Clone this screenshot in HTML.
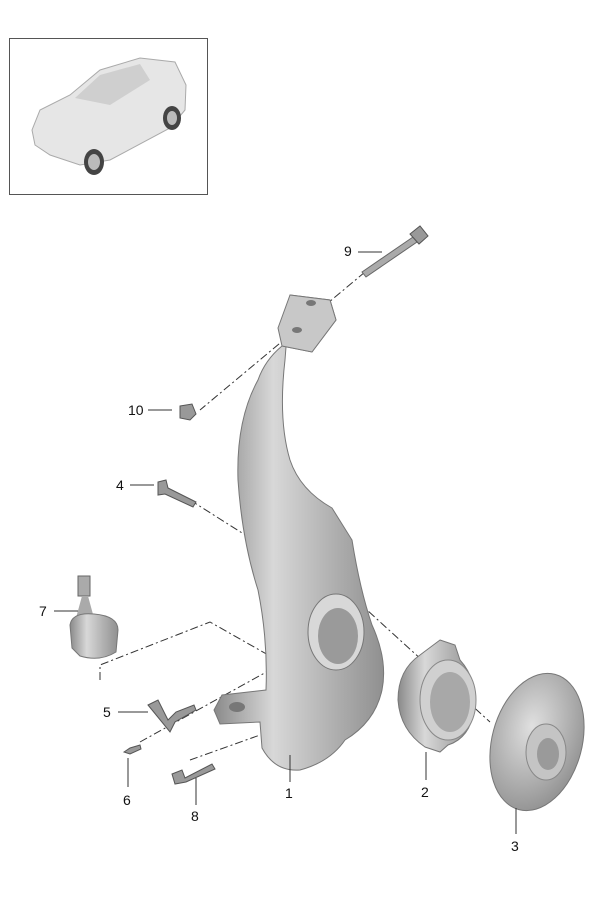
<!DOCTYPE html>
<html><head><meta charset="utf-8"><style>
html,body{margin:0;padding:0;background:#fff}
svg{display:block}
text{font-family:"Liberation Sans",sans-serif;font-size:14px;fill:#111}
</style></head><body>
<svg width="600" height="900" viewBox="0 0 600 900" xmlns="http://www.w3.org/2000/svg">
<defs>
<linearGradient id="g1" x1="0" y1="0" x2="1" y2="0">
<stop offset="0" stop-color="#8a8a8a"/><stop offset="0.35" stop-color="#d8d8d8"/><stop offset="0.7" stop-color="#b0b0b0"/><stop offset="1" stop-color="#909090"/></linearGradient>
<radialGradient id="g2" cx="0.4" cy="0.4" r="0.7"><stop offset="0" stop-color="#e0e0e0"/><stop offset="1" stop-color="#8c8c8c"/></radialGradient>
</defs>
<rect x="9.5" y="38.5" width="198" height="156" fill="#fff" stroke="#555" stroke-width="1"/>
<path d="M32 130 L40 110 L70 95 L100 70 L140 58 L175 62 L186 85 L185 110 L170 128 L110 160 L80 165 L50 155 L35 145 Z" fill="#e6e6e6" stroke="#aaa"/>
<path d="M75 98 L100 75 L140 64 L150 80 L110 105 Z" fill="#cfcfcf"/>
<ellipse cx="94" cy="162" rx="10" ry="13" fill="#444"/><ellipse cx="94" cy="162" rx="6" ry="8" fill="#bbb"/>
<ellipse cx="172" cy="118" rx="9" ry="12" fill="#444"/><ellipse cx="172" cy="118" rx="5" ry="7" fill="#bbb"/>
<g stroke="#333" stroke-width="1" fill="none" stroke-dasharray="8,3,2,3">
<line x1="365" y1="272" x2="200" y2="410"/>
<line x1="190" y1="500" x2="250" y2="538"/>
<line x1="345" y1="590" x2="490" y2="722"/>
<polyline points="100,680 100,665 210,622 270,656"/>
<line x1="140" y1="742" x2="270" y2="670"/>
<line x1="190" y1="760" x2="260" y2="735"/>
</g>
<path d="M290 295 L330 300 L336 320 L312 352 L282 346 Q265 360 258 380 Q236 420 238 480 Q242 540 258 590 Q268 640 266 690 L222 695 L214 710 L220 724 L260 722 L262 748 Q275 772 300 770 Q330 762 345 740 Q375 722 382 690 Q388 660 372 625 Q360 590 352 540 L332 508 Q300 490 290 460 Q278 420 285 360 Z" fill="url(#g1)" stroke="#777" stroke-width="1"/>
<path d="M290 295 L330 300 L336 320 L312 352 L282 346 L278 328 Z" fill="#c8c8c8" stroke="#777"/>
<ellipse cx="311" cy="303" rx="5" ry="3" fill="#777"/><ellipse cx="297" cy="330" rx="5" ry="3" fill="#777"/>
<ellipse cx="336" cy="632" rx="28" ry="38" fill="#d8d8d8" stroke="#777"/>
<ellipse cx="338" cy="636" rx="20" ry="28" fill="#9a9a9a"/>
<ellipse cx="237" cy="707" rx="8" ry="5" fill="#777"/>
<path d="M440 640 L455 645 L460 660 Q478 680 474 710 Q470 738 448 745 L440 752 L425 747 Q400 730 398 700 Q398 670 420 655 Z" fill="url(#g1)" stroke="#777"/>
<ellipse cx="448" cy="700" rx="28" ry="40" fill="#d0d0d0" stroke="#888"/>
<ellipse cx="450" cy="702" rx="20" ry="30" fill="#a8a8a8"/>
<path d="M500 715 L520 712 L520 780 L500 775 Q493 745 500 715Z" fill="#9a9a9a" stroke="#777"/>
<ellipse cx="537" cy="742" rx="45" ry="70" transform="rotate(15 537 742)" fill="url(#g2)" stroke="#777"/>
<ellipse cx="546" cy="752" rx="20" ry="28" fill="#c4c4c4" stroke="#888"/>
<ellipse cx="548" cy="754" rx="11" ry="16" fill="#9a9a9a"/>
<!-- bolt 9 -->
<path d="M362 272 L413 237 L417 242 L366 277 Z" fill="#aaa" stroke="#666"/>
<path d="M410 234 L420 226 L428 236 L419 244 Z" fill="#999" stroke="#555"/>
<path d="M180 406 L192 404 L196 414 L190 420 L180 418 Z" fill="#999" stroke="#555"/>
<path d="M158 482 L166 480 L168 488 L196 502 L193 507 L165 494 L158 495 Z" fill="#999" stroke="#555"/>
<rect x="78" y="576" width="12" height="20" fill="#aaa" stroke="#666"/>
<path d="M82 596 L88 596 L94 618 L76 618 Z" fill="#aaa"/>
<path d="M70 625 Q72 612 94 614 Q118 616 118 630 L116 652 Q100 662 80 656 L72 648 Z" fill="url(#g1)" stroke="#777"/>
<path d="M148 705 L158 700 L168 720 L176 712 L194 705 L196 710 L175 722 L170 732 Z" fill="#999" stroke="#555"/>
<path d="M124 752 L130 748 L140 745 L141 749 L130 754 Z" fill="#999" stroke="#555"/>
<path d="M172 774 L182 770 L185 778 L212 764 L215 769 L186 782 L175 784 Z" fill="#999" stroke="#555"/>
<g stroke="#333" stroke-width="1">
<line x1="358" y1="252" x2="382" y2="252"/>
<line x1="148" y1="410" x2="172" y2="410"/>
<line x1="130" y1="485" x2="154" y2="485"/>
<line x1="54" y1="611" x2="78" y2="611"/>
<line x1="118" y1="712" x2="148" y2="712"/>
<line x1="128" y1="758" x2="128" y2="787"/>
<line x1="196" y1="778" x2="196" y2="805"/>
<line x1="290" y1="755" x2="290" y2="782"/>
<line x1="426" y1="752" x2="426" y2="780"/>
<line x1="516" y1="808" x2="516" y2="834"/>
</g>
<text x="344" y="256">9</text>
<text x="128" y="415">10</text>
<text x="116" y="490">4</text>
<text x="39" y="616">7</text>
<text x="103" y="717">5</text>
<text x="123" y="805">6</text>
<text x="191" y="821">8</text>
<text x="285" y="798">1</text>
<text x="421" y="797">2</text>
<text x="511" y="851">3</text>
</svg>
</body></html>
